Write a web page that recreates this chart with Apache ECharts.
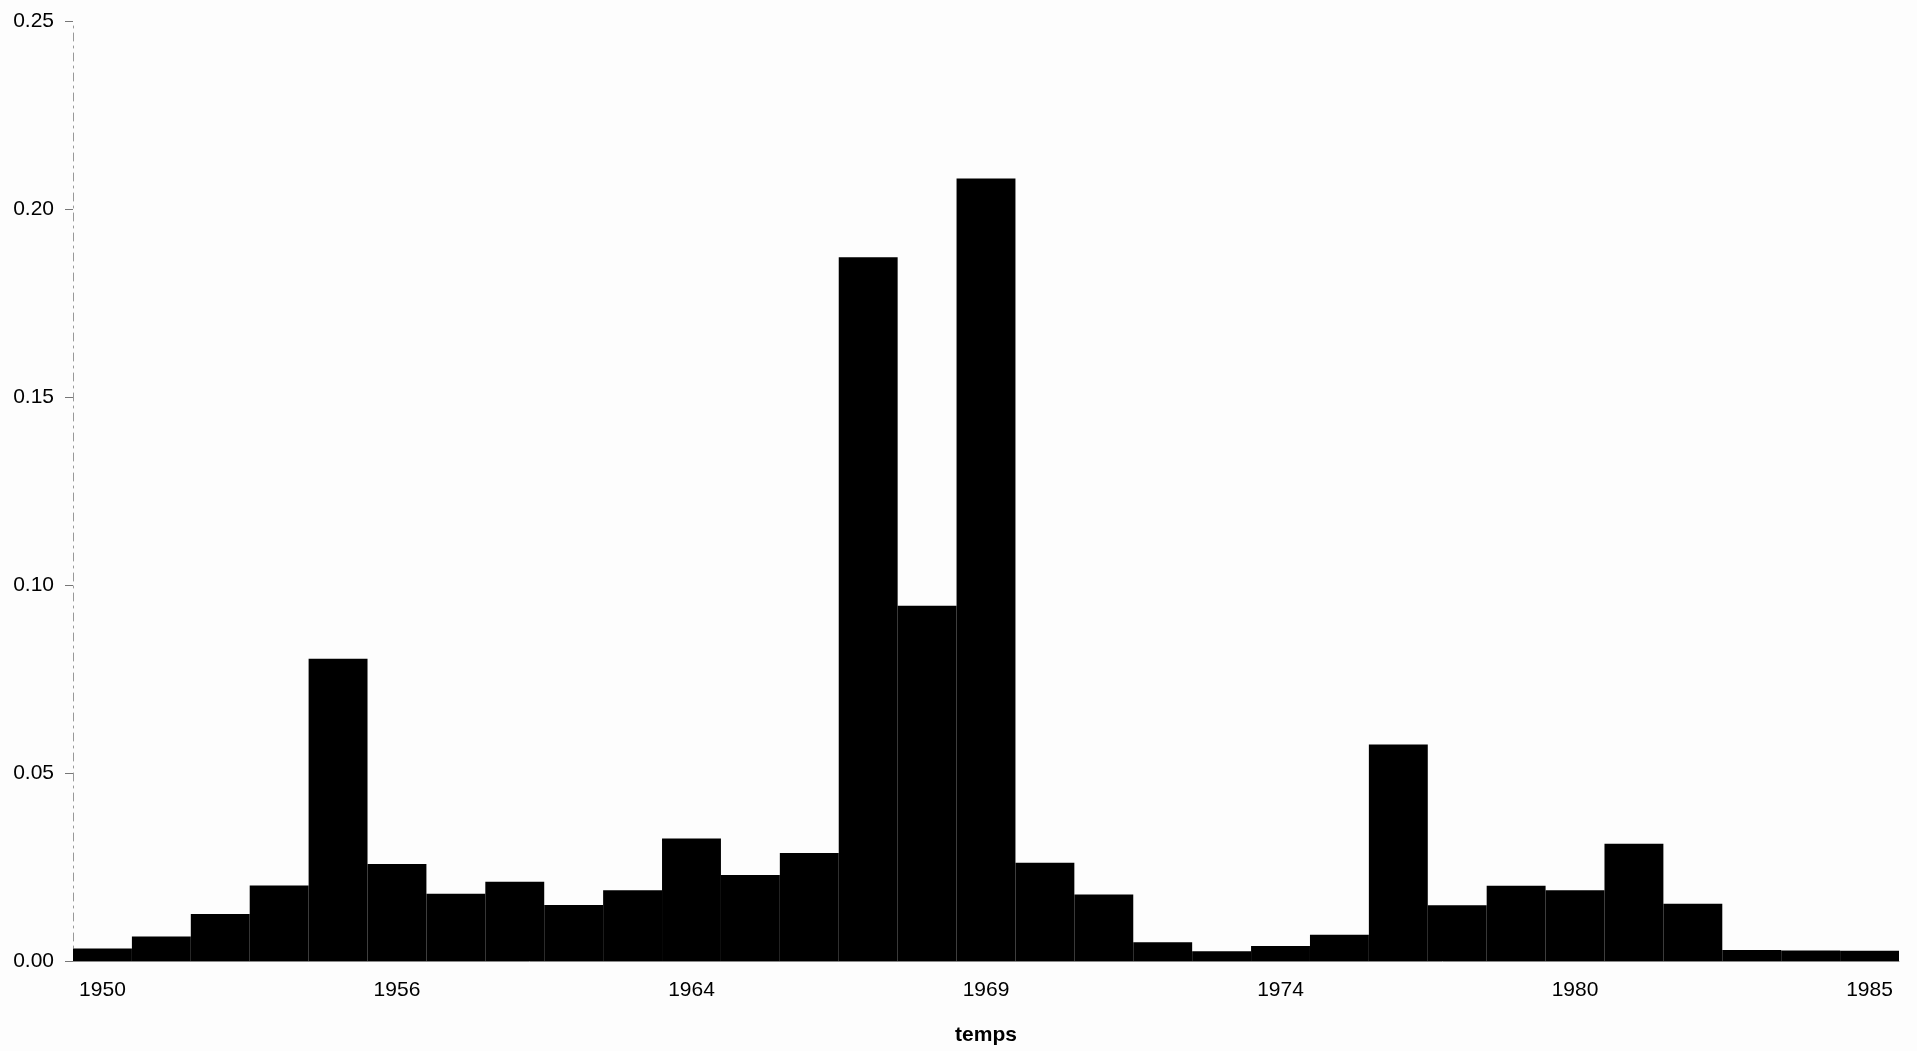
<!DOCTYPE html>
<html>
	<head>
		<meta charset="utf-8">
		<title></title>
		<script src="https://cdn.jsdelivr.net/npm/echarts@6/dist/echarts.min.js"></script>
		<style>
			html, body { margin: 0; padding: 0; background: #fdfdfd; }
		</style>
	</head>

	<body>
		<div id="main" style="width: 1917px; height: 1051px;"></div>
		<script type="text/javascript">
			// labelled years, one every 5 classes
			var yearLabels = ['1950', '1956', '1964', '1969', '1974', '1980', '1985'];
			var freq = [
				0.0033, 0.0065, 0.0125, 0.0201, 0.0804, 0.0258, 0.0179, 0.0211,
				0.0149, 0.0188, 0.0326, 0.0229, 0.0287, 0.1872, 0.0945, 0.2081,
				0.0261, 0.0177, 0.0050, 0.0026, 0.0040, 0.0070, 0.0576, 0.0148,
				0.0200, 0.0188, 0.0312, 0.0152, 0.0029, 0.0028, 0.0027
			];
			var categories = freq.map(function (v, i) {
				return i % 5 === 0 ? yearLabels[i / 5] : ' ' + i;
			});

			var myChart = echarts.init(document.getElementById("main"));
			var option = {
				backgroundColor: '#fdfdfd',
				textStyle: { fontFamily: 'Liberation Sans, Arial, sans-serif' },
				animation: false,
				grid: { left: 73, right: 18, top: 21, bottom: 90, outerBoundsMode: 'none' },
				xAxis: {
					type: 'category',
					data: categories,
					name: 'temps',
					nameLocation: 'middle',
					nameGap: 64,
					nameTextStyle: { color: '#000', fontSize: 21, fontWeight: 'bold' },
					axisLine: { lineStyle: { color: '#888', width: 1 } },
					axisTick: { interval: 0, length: 7, lineStyle: { color: '#555' } },
					axisLabel: {
						interval: 4,
						margin: 19,
						color: '#000',
						fontSize: 21
					}
				},
				yAxis: {
					type: 'value',
					min: 0,
					max: 0.25,
					interval: 0.05,
					axisLine: { show: true, lineStyle: { color: '#999', width: 1, type: [8, 5, 2, 5] } },
					axisTick: { show: true, length: 8, lineStyle: { color: '#777' } },
					splitLine: { show: false },
					axisLabel: {
						color: '#000',
						fontSize: 21,
						margin: 19,
						formatter: function (v) { return v.toFixed(2); }
					}
				},
				series: [
					{
						type: 'bar',
						data: freq,
						barCategoryGap: 0,
						itemStyle: { color: '#000', borderColor: '#000', borderWidth: 2 }
					}
				]
			};
			myChart.setOption(option);
		</script>
	</body>
</html>
